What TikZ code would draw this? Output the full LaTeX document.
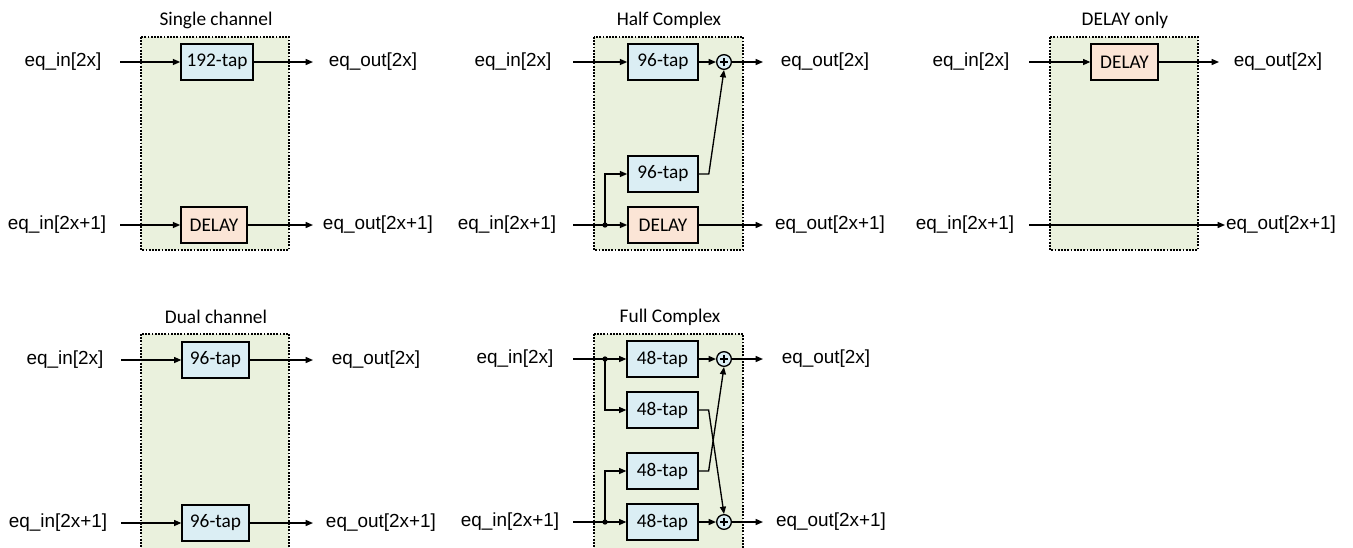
\documentclass[tikz,border=0pt]{standalone}
\usepackage{fontspec}
\setmainfont{Liberation Sans}
\newfontfamily\calibri{Carlito}
\usetikzlibrary{arrows.meta}

\definecolor{grpfill}{RGB}{234,241,221}
\definecolor{tapfill}{RGB}{219,238,244}
\definecolor{dlyfill}{RGB}{251,229,214}

\tikzset{
    grp/.style={fill=grpfill, draw=black, line width=1.2pt, dash pattern=on 1.3pt off 1.1pt},
    blk/.style={draw, line width=1.2pt, minimum height=27pt, inner sep=0pt, font=\calibri\fontsize{14.5}{16}\selectfont},
    tap/.style={blk, fill=tapfill},
    dly/.style={blk, fill=dlyfill},
    sig/.style={line width=1pt, -{Triangle[length=5.5pt,width=4.5pt]}},
    lbl/.style={inner sep=0pt, font=\fontsize{14.2}{16}\selectfont},
    ttl/.style={inner sep=0pt, font=\calibri\fontsize{14.5}{16}\selectfont},
    sum/.style={circle, draw, fill=tapfill, line width=1pt, minimum size=11pt, inner sep=0pt,
        path picture={
            \draw[line width=0.8pt] ([xshift=-3pt]path picture bounding box.center) -- ([xshift=3pt]path picture bounding box.center);
            \draw[line width=0.8pt] ([yshift=-3pt]path picture bounding box.center) -- ([yshift=3pt]path picture bounding box.center);
        }},
    dot/.style={circle, fill, inner sep=0pt, minimum size=4pt}
}

\begin{document}
\begin{tikzpicture}[x=0.75pt, y=-0.75pt]
    \useasboundingbox (0,0) rectangle (1353,547);

    % Single channel
    \draw[grp] (141,37) rectangle (289,250);
    \node[ttl] (sc-title) at (216,20) {Single channel};
    \node[tap, minimum width=54pt] (sc-t0) at (217,62) {192-tap};
    \node[dly, minimum width=49.5pt] (sc-d1) at (214,225) {DELAY};
    \node[lbl] (sc-in0) at (63,62) {eq\_in[2x]};
    \node[lbl] (sc-in1) at (57,225) {eq\_in[2x+1]};
    \node[lbl] (sc-out0) at (373,62) {eq\_out[2x]};
    \node[lbl] (sc-out1) at (378,225) {eq\_out[2x+1]};
    \coordinate (sc-s0) at (120,62);
    \coordinate (sc-s1) at (120,225);
    \coordinate (sc-e0) at (313,62);
    \coordinate (sc-e1) at (313,225);
    \draw[sig] (sc-s0) -- (sc-t0);
    \draw[sig] (sc-s1) -- (sc-d1);
    \draw[sig] (sc-t0) -- (sc-e0);
    \draw[sig] (sc-d1) -- (sc-e1);

    % Half Complex
    \draw[grp] (594,37) rectangle (743,250);
    \node[ttl] (hc-title) at (669,20) {Half Complex};
    \node[tap, minimum width=52.5pt] (hc-t0) at (663,62) {96-tap};
    \node[tap, minimum width=52.5pt] (hc-t1) at (663,174) {96-tap};
    \node[dly, minimum width=52.5pt] (hc-d1) at (663,225) {DELAY};
    \node[sum] (hc-sum) at (724,62) {};
    \node[dot] (hc-j) at (605,225) {};
    \node[lbl] (hc-in0) at (513,62) {eq\_in[2x]};
    \node[lbl] (hc-in1) at (507,225) {eq\_in[2x+1]};
    \node[lbl] (hc-out0) at (825,62) {eq\_out[2x]};
    \node[lbl] (hc-out1) at (830,225) {eq\_out[2x+1]};
    \coordinate (hc-s0) at (573,62);
    \coordinate (hc-s1) at (573,225);
    \coordinate (hc-e0) at (763,62);
    \coordinate (hc-e1) at (763,225);
    \draw[sig] (hc-s0) -- (hc-t0);
    \draw[sig] (hc-s1) -- (hc-d1);
    \draw[sig] (hc-j.center) |- (hc-t1.west);
    \draw[sig] (hc-t0) -- (hc-sum);
    \draw[sig] (hc-t1.east) -- ++(10,0) -- (hc-sum.south);
    \draw[sig] (hc-sum) -- (hc-e0);
    \draw[sig] (hc-d1) -- (hc-e1);

    % DELAY only
    \draw[grp] (1050,37) rectangle (1198,250);
    \node[ttl] (do-title) at (1125,20) {DELAY only};
    \node[dly, minimum width=50pt] (do-d0) at (1124.5,62) {DELAY};
    \node[lbl] (do-in0) at (971,62) {eq\_in[2x]};
    \node[lbl] (do-in1) at (965,225) {eq\_in[2x+1]};
    \node[lbl] (do-out0) at (1278,62) {eq\_out[2x]};
    \node[lbl] (do-out1) at (1281,225) {eq\_out[2x+1]};
    \coordinate (do-s0) at (1029,62);
    \coordinate (do-s1) at (1029,225);
    \coordinate (do-e0) at (1219,62);
    \coordinate (do-e1) at (1225,225);
    \draw[sig] (do-s0) -- (do-d0);
    \draw[sig] (do-d0) -- (do-e0);
    \draw[sig] (do-s1) -- (do-e1);

    % Dual channel
    \draw[grp] (141,334) rectangle (289,549);
    \node[ttl] (dc-title) at (216,317) {Dual channel};
    \node[tap, minimum width=50pt] (dc-t0) at (215.5,360) {96-tap};
    \node[tap, minimum width=50pt] (dc-t1) at (215.5,523) {96-tap};
    \node[lbl] (dc-in0) at (65,360) {eq\_in[2x]};
    \node[lbl] (dc-in1) at (58,523) {eq\_in[2x+1]};
    \node[lbl] (dc-out0) at (376,360) {eq\_out[2x]};
    \node[lbl] (dc-out1) at (381,523) {eq\_out[2x+1]};
    \coordinate (dc-s0) at (121,360);
    \coordinate (dc-s1) at (121,523);
    \coordinate (dc-e0) at (313,360);
    \coordinate (dc-e1) at (313,523);
    \draw[sig] (dc-s0) -- (dc-t0);
    \draw[sig] (dc-s1) -- (dc-t1);
    \draw[sig] (dc-t0) -- (dc-e0);
    \draw[sig] (dc-t1) -- (dc-e1);

    % Full Complex
    \draw[grp] (594,334) rectangle (743,549);
    \node[ttl] (fc-title) at (670,317) {Full Complex};
    \node[tap, minimum width=53pt] (fc-t0) at (662.5,359) {48-tap};
    \node[tap, minimum width=53pt] (fc-t1) at (662.5,410) {48-tap};
    \node[tap, minimum width=53pt] (fc-t2) at (662.5,471) {48-tap};
    \node[tap, minimum width=53pt] (fc-t3) at (662.5,522) {48-tap};
    \node[sum] (fc-sum0) at (724,359) {};
    \node[sum] (fc-sum1) at (724,522) {};
    \node[dot] (fc-j0) at (605,359) {};
    \node[dot] (fc-j1) at (605,522) {};
    \node[lbl] (fc-in0) at (515,359) {eq\_in[2x]};
    \node[lbl] (fc-in1) at (510,522) {eq\_in[2x+1]};
    \node[lbl] (fc-out0) at (826,359) {eq\_out[2x]};
    \node[lbl] (fc-out1) at (831,522) {eq\_out[2x+1]};
    \coordinate (fc-s0) at (573,359);
    \coordinate (fc-s1) at (573,522);
    \coordinate (fc-e0) at (763,359);
    \coordinate (fc-e1) at (763,522);
    \draw[sig] (fc-s0) -- (fc-t0);
    \draw[sig] (fc-s1) -- (fc-t3);
    \draw[sig] (fc-j0.center) |- (fc-t1.west);
    \draw[sig] (fc-j1.center) |- (fc-t2.west);
    \draw[sig] (fc-t0) -- (fc-sum0);
    \draw[sig] (fc-t3) -- (fc-sum1);
    \draw[sig] (fc-t1.east) -- ++(10,0) -- (fc-sum1.north);
    \draw[sig] (fc-t2.east) -- ++(10,0) -- (fc-sum0.south);
    \draw[sig] (fc-sum0) -- (fc-e0);
    \draw[sig] (fc-sum1) -- (fc-e1);
\end{tikzpicture}
\end{document}
